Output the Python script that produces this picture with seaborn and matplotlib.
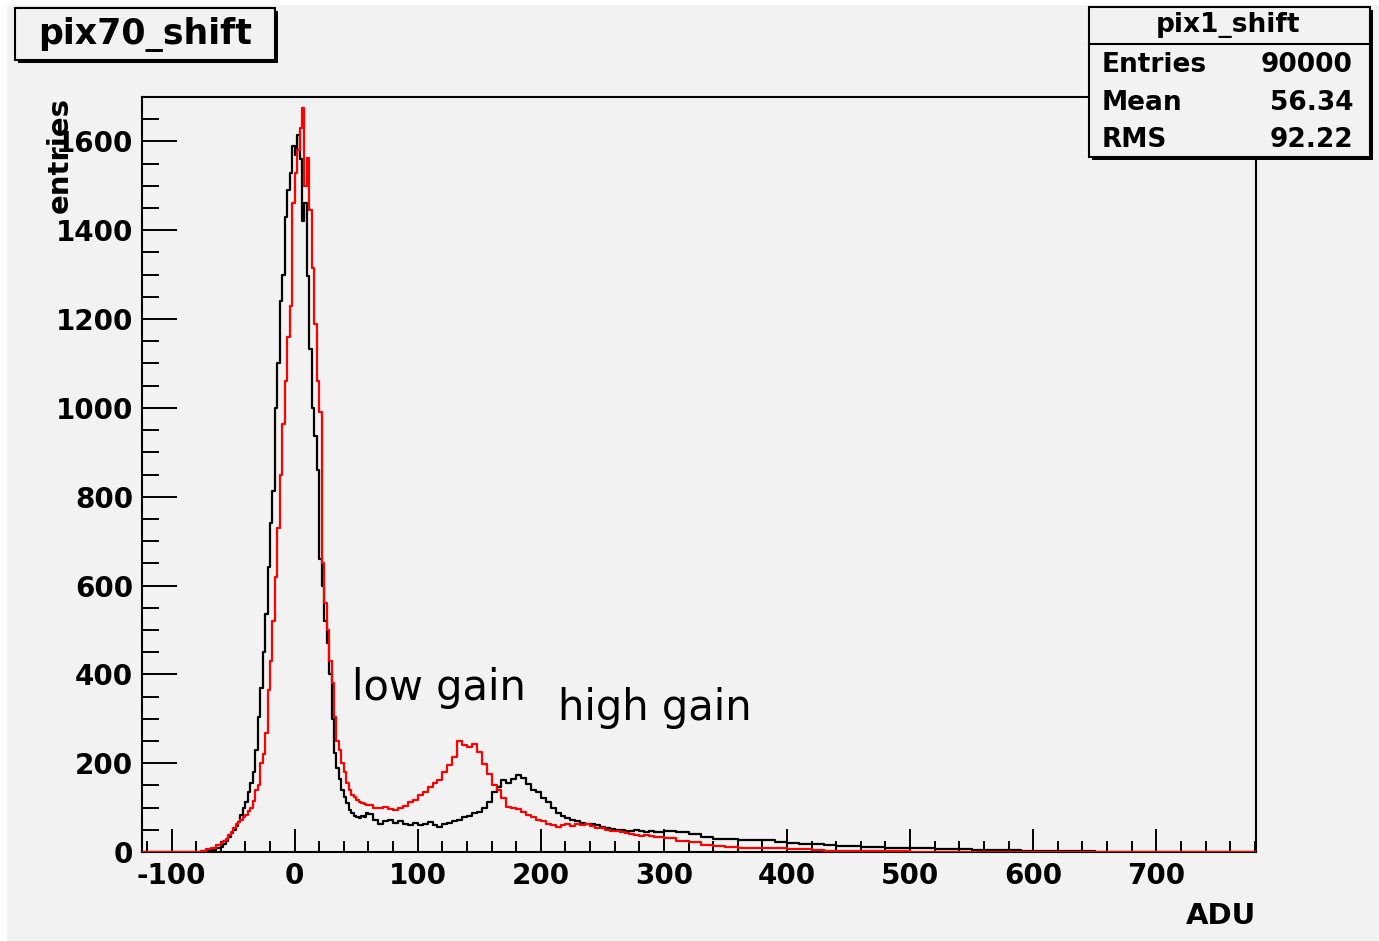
import numpy as np
import pandas as pd
import seaborn as sns
import matplotlib
matplotlib.use("Agg")
import matplotlib.pyplot as plt
from matplotlib.patches import Rectangle
from matplotlib.lines import Line2D
from matplotlib.ticker import MultipleLocator

plt.rcParams["axes.unicode_minus"] = False

# ---------------------------------------------------------
# histogram contents (entries per bin)
# bins: 4 ADU from -128 to -60, 2 ADU from -60 to 60,
#       4 ADU from 60 to 300, 10 ADU from 300 to 790
# ---------------------------------------------------------
black_left = [0, 0, 0, 0, 0, 0, 0, 0, 0, 0, 0, 0, 1, 2, 3, 5, 8]
black_peak = [12, 18, 25, 34, 42, 50, 58, 68, 84, 100,
              112, 135, 155, 180, 230, 304, 370, 450, 537, 641,
              740, 813, 1000, 1100, 1240, 1300, 1430, 1490, 1530, 1589,
              1570, 1615, 1560, 1420, 1461, 1297, 1132, 1000, 937, 860,
              660, 600, 520, 470, 400, 300, 222, 190, 165, 140,
              124, 110, 94, 88, 80, 79, 76, 82, 78, 87]
black_mid = [85, 72, 64, 70, 72, 66, 70, 64, 60, 66,
             61, 64, 68, 60, 57, 62, 66, 70, 72, 78,
             82, 87, 90, 98, 113, 136, 147, 162, 156, 165,
             173, 166, 154, 139, 134, 122, 112, 100, 88, 82,
             76, 72, 70, 66, 64, 62, 60, 57, 55, 52,
             49, 50, 48, 47, 49, 47, 45, 48, 46, 45]
black_tail = [47, 45, 40, 33, 30, 29, 28, 28, 26, 23,
              20, 19, 18, 16, 14, 13, 12, 11, 10, 9,
              8, 8, 7, 6, 6, 5, 5, 4, 4, 3,
              3, 3, 2, 2, 2, 1, 1, 1, 1, 1,
              0, 0, 0, 0, 0, 0, 0, 0, 0]

red_left = [0, 0, 0, 0, 0, 0, 0, 0, 0, 0, 0, 0, 1, 3, 6, 10, 15]
red_peak = [20, 24, 30, 38, 46, 54, 62, 68, 72, 78,
            84, 92, 100, 115, 139, 150, 200, 220, 267, 364,
            430, 520, 620, 730, 850, 963, 1060, 1160, 1229, 1461,
            1529, 1580, 1630, 1675, 1500, 1562, 1446, 1315, 1188, 1060,
            990, 650, 560, 499, 430, 380, 304, 250, 230, 200,
            180, 155, 140, 128, 124, 117, 112, 110, 108, 106]
red_mid = [106, 100, 98, 102, 97, 95, 98, 104, 113, 118,
           128, 136, 147, 155, 162, 180, 195, 215, 250, 240,
           236, 244, 225, 199, 175, 150, 139, 122, 102, 98,
           96, 90, 83, 78, 72, 70, 64, 60, 57, 60,
           62, 58, 62, 60, 64, 58, 55, 53, 50, 48,
           47, 44, 42, 40, 38, 36, 38, 36, 34, 34]
red_tail = [32, 24, 22, 15, 13, 12, 10, 10, 9, 9,
            7, 6, 4, 3, 3, 3, 2, 2, 2, 2,
            1, 1, 1, 1, 1, 1, 1, 1, 1, 1,
            1, 0, 0, 0, 0, 0, 0, 0, 0, 0,
            0, 0, 0, 0, 0, 0, 0, 0, 0]

stats_rows = [("Entries", "90000"), ("Mean", "56.34"), ("RMS", "92.22")]

edges = np.concatenate([np.arange(-128, -60, 4), np.arange(-60, 60, 2),
                        np.arange(60, 300, 4), np.arange(300, 791, 10)])
centers = 0.5 * (edges[:-1] + edges[1:])

df = pd.DataFrame({
    "adu": np.concatenate([centers, centers]),
    "entries": black_left + black_peak + black_mid + black_tail
               + red_left + red_peak + red_mid + red_tail,
    "pixel": ["pix70_shift"] * len(centers) + ["pix1_shift"] * len(centers),
})

W, H = 1379, 941
BG = "#f2f2f2"

def fx(px):
    return px / W

def fy(py):
    return 1 - py / H

fig = plt.figure(figsize=(W / 100, H / 100), dpi=100)
fig.patch.set_facecolor("white")
fig.patches.append(Rectangle((fx(7), 0), 1 - fx(7), fy(5), transform=fig.transFigure,
                             facecolor=BG, edgecolor="none", zorder=-10))

ax = fig.add_axes([fx(142), fy(852), fx(1256) - fx(142), fy(97) - fy(852)])
ax.set_facecolor(BG)

for name, col in [("pix70_shift", "black"), ("pix1_shift", "red")]:
    sns.histplot(data=df[df["pixel"] == name], x="adu", weights="entries", bins=edges.tolist(),
                 element="step", fill=False, color=col, linewidth=1.6, ax=ax, zorder=3)

ax.set_xlim(-124, 781)
ax.set_ylim(0, 1700)
ax.set_xlabel("")
ax.set_ylabel("")

ax.xaxis.set_major_locator(MultipleLocator(100))
ax.xaxis.set_minor_locator(MultipleLocator(20))
ax.yaxis.set_major_locator(MultipleLocator(200))
ax.yaxis.set_minor_locator(MultipleLocator(50))
ax.tick_params(which="both", direction="in", width=1.4, color="black")
ax.tick_params(axis="x", which="major", length=16.5, pad=7)
ax.tick_params(axis="x", which="minor", length=8)
ax.tick_params(axis="y", which="major", length=25, pad=6.5)
ax.tick_params(axis="y", which="minor", length=12.5)
for lab in ax.get_xticklabels() + ax.get_yticklabels():
    lab.set_fontweight("bold")
    lab.set_fontsize(20)
for sp in ax.spines.values():
    sp.set_linewidth(1.5)
    sp.set_color("black")

ax.text(46.6, 342, "low gain", fontsize=30, va="baseline", ha="left")
ax.text(214, 297, "high gain", fontsize=30, va="baseline", ha="left")

fig.text(fx(60), fy(97), "entries", rotation=90, ha="center", va="top",
         fontsize=21, fontweight="bold")
fig.text(fx(1256), fy(916), "ADU", ha="right", va="center", fontsize=21, fontweight="bold")

# title box with shadow
fig.patches.append(Rectangle((fx(18), fy(63)), fx(278) - fx(18), fy(11) - fy(63),
                             transform=fig.transFigure, facecolor="black", zorder=5))
fig.patches.append(Rectangle((fx(15), fy(60)), fx(275) - fx(15), fy(8) - fy(60),
                             transform=fig.transFigure, facecolor=BG, edgecolor="black",
                             linewidth=1.5, zorder=6))
fig.text(fx(145), fy(35), "pix70_shift", ha="center", va="center", fontsize=25,
         fontweight="bold", zorder=7)

# stats box with shadow
fig.patches.append(Rectangle((fx(1092), fy(160)), fx(1373) - fx(1092), fy(10) - fy(160),
                             transform=fig.transFigure, facecolor="black", zorder=5))
fig.patches.append(Rectangle((fx(1089), fy(157)), fx(1370) - fx(1089), fy(7) - fy(157),
                             transform=fig.transFigure, facecolor=BG, edgecolor="black",
                             linewidth=1.5, zorder=6))
fig.lines.append(Line2D([fx(1089), fx(1370)], [fy(44), fy(44)], transform=fig.transFigure,
                        color="black", linewidth=1.5, zorder=7))
fig.text(fx(1228), fy(25), "pix1_shift", ha="center", va="center", fontsize=19,
         fontweight="bold", zorder=7)
for i, (k, v) in enumerate(stats_rows):
    yy = fy(65 + 37.5 * i)
    fig.text(fx(1102), yy, k, ha="left", va="center", fontsize=19, fontweight="bold", zorder=7)
    fig.text(fx(1353), yy, v, ha="right", va="center", fontsize=19, fontweight="bold", zorder=7)

fig.savefig("out.png", dpi=100, facecolor=fig.get_facecolor())
